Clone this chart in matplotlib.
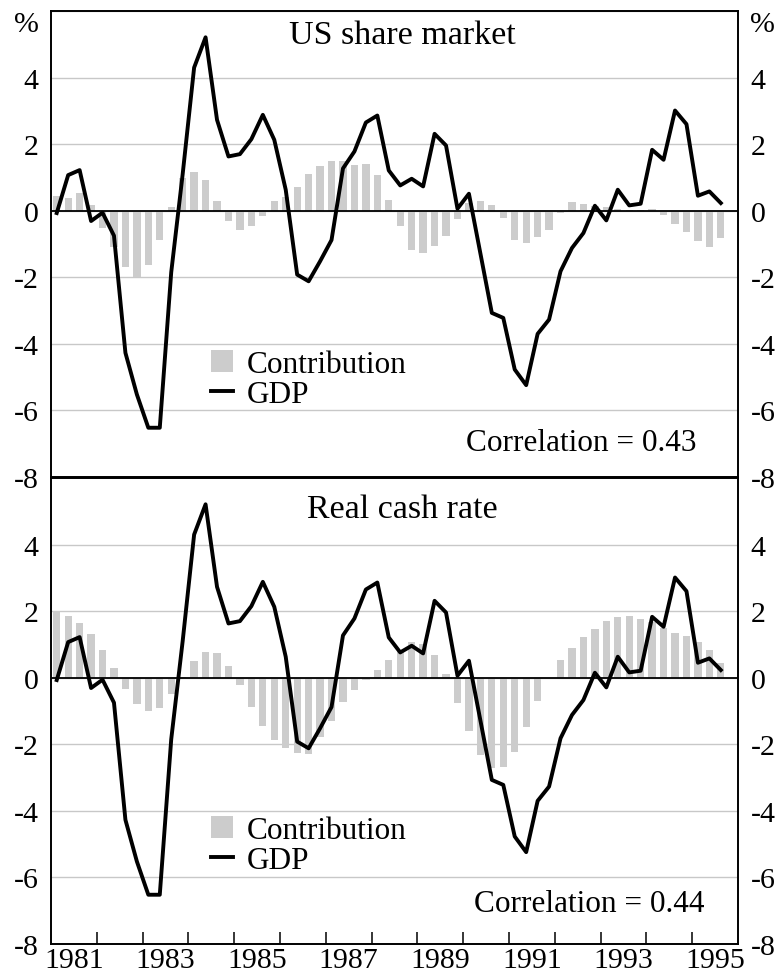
import matplotlib

matplotlib.use("Agg")

import matplotlib.pyplot as plt
from matplotlib.lines import Line2D
from matplotlib.patches import Patch
import numpy as np

# quarterly data, 1981Q1 to 1995Q3
start_year = 1981
gdp = [
    -0.07, 1.07, 1.22, -0.31, -0.06, -0.75, -4.27, -5.52, -6.52, -6.52,
    -1.85, 1.10, 4.30, 5.21, 2.73, 1.63, 1.70, 2.15, 2.88, 2.13,
    0.63, -1.92, -2.12, -1.52, -0.88, 1.27, 1.78, 2.65, 2.86, 1.21,
    0.76, 0.96, 0.73, 2.31, 1.96, 0.06, 0.51, -1.28, -3.07, -3.22,
    -4.77, -5.24, -3.70, -3.27, -1.82, -1.12, -0.67, 0.15, -0.29, 0.63,
    0.16, 0.21, 1.83, 1.53, 3.01, 2.60, 0.45, 0.58, 0.23,
]
share_contrib = [
    0.45, 0.37, 0.53, 0.17, -0.53, -1.10, -1.70, -2.00, -1.62, -0.88,
    0.10, 0.98, 1.17, 0.91, 0.30, -0.30, -0.57, -0.47, -0.15, 0.28,
    0.42, 0.70, 1.09, 1.35, 1.49, 1.48, 1.38, 1.41, 1.06, 0.33,
    -0.45, -1.18, -1.28, -1.07, -0.75, -0.25, 0.22, 0.30, 0.18, -0.22,
    -0.87, -0.97, -0.78, -0.58, -0.07, 0.27, 0.19, 0.14, 0.12, 0.05,
    0.03, 0.03, 0.04, -0.12, -0.41, -0.65, -0.90, -1.08, -0.82,
]
cash_contrib = [
    2.00, 1.84, 1.65, 1.30, 0.84, 0.28, -0.35, -0.80, -1.00, -0.90,
    -0.48, 0.03, 0.49, 0.78, 0.73, 0.36, -0.23, -0.87, -1.46, -1.88,
    -2.12, -2.27, -2.28, -1.78, -1.30, -0.73, -0.36, -0.07, 0.24, 0.52,
    0.82, 1.08, 1.02, 0.69, 0.10, -0.77, -1.60, -2.32, -2.70, -2.67,
    -2.22, -1.48, -0.71, 0.00, 0.52, 0.90, 1.22, 1.45, 1.70, 1.83,
    1.85, 1.77, 1.68, 1.50, 1.35, 1.25, 1.08, 0.83, 0.44,
]
panel_titles = ["US share market", "Real cash rate"]
correlations = ["Correlation = 0.43", "Correlation = 0.44"]
year_labels = [1981, 1983, 1985, 1987, 1989, 1991, 1993, 1995]

BAR_COLOR = "#cccccc"
GRID_COLOR = "#c8c8c8"
TICK_SIZE = 21.5
TITLE_SIZE = 24.5
TEXT_SIZE = 22.5
LINE_WIDTH = 2.8

plt.rcParams["font.family"] = ["Liberation Serif", "DejaVu Serif"]
plt.rcParams["axes.unicode_minus"] = False


def _draw_panel(ax, contrib, title, corr_text, title_y, corr_xy, legend_y, show_pct):
    x = start_year + (np.arange(len(gdp)) + 0.5) / 4
    ax.bar(x, contrib, width=0.16, color=BAR_COLOR, zorder=2)
    ax.axhline(0, color="black", linewidth=1.3, zorder=2.5)
    ax.plot(x, gdp, color="black", linewidth=LINE_WIDTH, zorder=3)

    ax.set_xlim(start_year, start_year + 15)
    ax.set_ylim(-8, 6)
    ticks = list(range(-8, 5, 2))
    labels = [str(t) for t in ticks]
    if show_pct:
        ticks.append(6)
        labels.append("%")
    ax.set_yticks(ticks, labels)
    ax.tick_params(axis="y", length=0, pad=9, labelsize=TICK_SIZE, labelright=True)
    if show_pct:
        pct_tick = ax.yaxis.get_major_ticks()[-1]
        pct_tick.label1.set_va("top")
        pct_tick.label2.set_va("top")
    ax.grid(True, axis="y", color=GRID_COLOR, linewidth=1.0)
    ax.set_axisbelow(True)
    for spine in ax.spines.values():
        spine.set_linewidth(1.4)

    ax.text(0.512, title_y, title, transform=ax.transAxes, ha="center", va="center", fontsize=TITLE_SIZE)
    ax.text(corr_xy[0], corr_xy[1], corr_text, transform=ax.transAxes, ha="center", va="center", fontsize=TEXT_SIZE)

    handles = [
        Patch(facecolor=BAR_COLOR, edgecolor="none"),
        Line2D([], [], color="black", linewidth=LINE_WIDTH),
    ]
    ax.legend(
        handles,
        ["Contribution", "GDP"],
        loc="upper left",
        bbox_to_anchor=(0.201, legend_y),
        frameon=False,
        fontsize=TEXT_SIZE,
        handlelength=0.7,
        handleheight=0.7,
        handletextpad=0.45,
        labelspacing=0.05,
        borderpad=0.2,
    )


def main():
    fig = plt.figure(figsize=(7.82, 9.78), dpi=100)
    ax_top = fig.add_axes([51 / 782, 1 - 478 / 978, 687 / 782, 466 / 978])
    ax_bot = fig.add_axes([51 / 782, 1 - 945 / 978, 687 / 782, 466 / 978])

    _draw_panel(ax_top, share_contrib, panel_titles[0], correlations[0], 0.948, (0.772, 0.073), 0.32, True)
    _draw_panel(ax_bot, cash_contrib, panel_titles[1], correlations[1], 0.933, (0.783, 0.086), 0.322, False)

    ax_top.tick_params(axis="x", which="both", bottom=False, labelbottom=False)

    ax_bot.set_xticks(np.arange(start_year + 1, start_year + 15), minor=True)
    ax_bot.set_xticks([y + 0.5 for y in year_labels], [str(y) for y in year_labels])
    ax_bot.tick_params(axis="x", which="minor", direction="in", length=8.5, width=1.1)
    ax_bot.tick_params(axis="x", which="major", length=0, pad=2, labelsize=TICK_SIZE)

    fig.savefig("out.png", dpi=100)
    plt.close(fig)


if __name__ == "__main__":
    main()
